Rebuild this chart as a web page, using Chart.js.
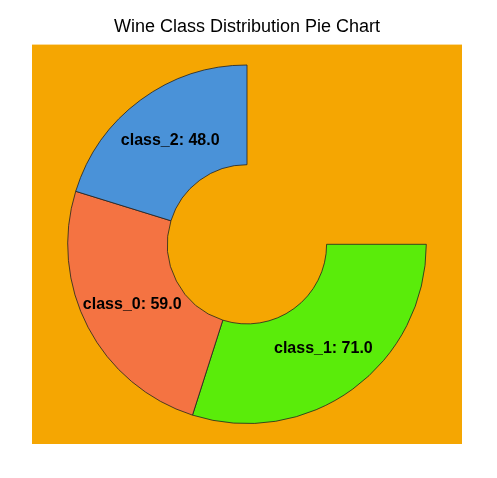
<!DOCTYPE html>
<html>
<head>
<meta charset="utf-8">
<script src="https://cdn.jsdelivr.net/npm/chart.js@4/dist/chart.umd.min.js"></script>
<style>
  html, body { margin: 0; padding: 0; background: #ffffff; }
  #wineChart { display: block; }
</style>
</head>
<body>
<canvas id="wineChart" width="497" height="478"></canvas>
<script>
// data, in drawing order (clockwise from 3 o'clock)
const categories = ['class_1', 'class_0', 'class_2'];
const counts = [71, 59, 48];
const sliceColors = ['#5aec0a', '#f47342', '#4a92d8'];

const bgPad = 20; // orange panel extends past the chart area

// orange panel behind the doughnut
const panelBackground = {
    id: 'panelBackground',
    beforeDraw(chart) {
        const a = chart.chartArea;
        const c = chart.ctx;
        c.save();
        c.fillStyle = '#f5a602';
        c.fillRect(a.left - bgPad, a.top - bgPad, a.right - a.left + bgPad * 2, a.bottom - a.top + bgPad * 2);
        c.restore();
    }
};

// "class_x: NN.0" in the middle of each slice
const sliceLabels = {
    id: 'sliceLabels',
    afterDatasetsDraw(chart) {
        const c = chart.ctx;
        const meta = chart.getDatasetMeta(0);
        c.save();
        c.font = 'bold 16px "Liberation Sans", Arial, sans-serif';
        c.fillStyle = '#000000';
        c.textAlign = 'center';
        c.textBaseline = 'middle';
        meta.data.forEach((arc, i) => {
            const p = arc.tooltipPosition();
            c.fillText(categories[i] + ': ' + counts[i].toFixed(1), p.x, p.y);
        });
        c.restore();
    }
};

const ctx = document.getElementById('wineChart').getContext('2d');

const wineChart = new Chart(ctx, {
    type: 'doughnut',
    data: {
        labels: categories,
        datasets: [{
            data: counts,
            backgroundColor: sliceColors,
            borderColor: '#222222',
            borderWidth: 0.8
        }]
    },
    options: {
        responsive: false,
        animation: false,
        rotation: 90,
        circumference: 270,
        cutout: '44.4%',
        layout: {
            padding: { top: 0, left: 52, right: 55, bottom: 54 }
        },
        plugins: {
            legend: { display: false },
            tooltip: { enabled: false },
            title: {
                display: true,
                text: 'Wine Class Distribution Pie Chart',
                color: '#000000',
                font: { family: '"Liberation Sans", Arial, sans-serif', size: 18, weight: 'normal' },
                padding: { top: 16, bottom: 27 }
            }
        }
    },
    plugins: [panelBackground, sliceLabels]
});
</script>
</body>
</html>
